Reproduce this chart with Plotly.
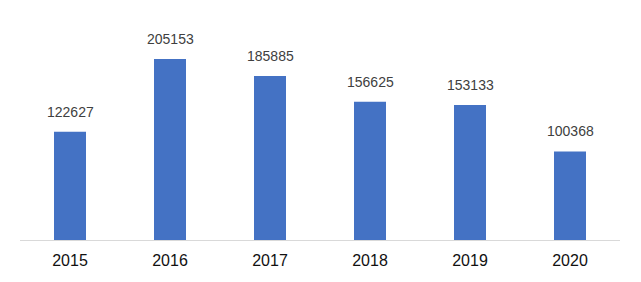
import plotly.graph_objects as go

years = ["2015", "2016", "2017", "2018", "2019", "2020"]
values = [122627, 205153, 185885, 156625, 153133, 100368]

fig = go.Figure()
fig.add_trace(go.Bar(x=years, y=values, marker_color="#4472C4", marker_line_width=0))

for i, v in enumerate(values):
    fig.add_annotation(x=i, y=v, text=str(v), showarrow=False, yanchor="bottom",
                       yshift=10, font=dict(family="Liberation Sans, Arial", size=14, color="#404040"))

fig.update_layout(
    width=641, height=282,
    margin=dict(l=20, r=21, t=20, b=42),
    paper_bgcolor="white", plot_bgcolor="white",
    bargap=0.68, showlegend=False,
    font=dict(family="Liberation Sans, Arial", size=16, color="#1a1a1a"),
)
fig.update_xaxes(type="category", range=[-0.5, len(years) - 0.5], showline=True, linecolor="#D9D9D9",
                 linewidth=1, ticks="", showgrid=False, ticklabelstandoff=6,
                 tickfont=dict(size=16, color="#111111"))
fig.update_yaxes(visible=False, range=[0, 249400], showgrid=False, zeroline=False)

fig.write_html("out.html")
